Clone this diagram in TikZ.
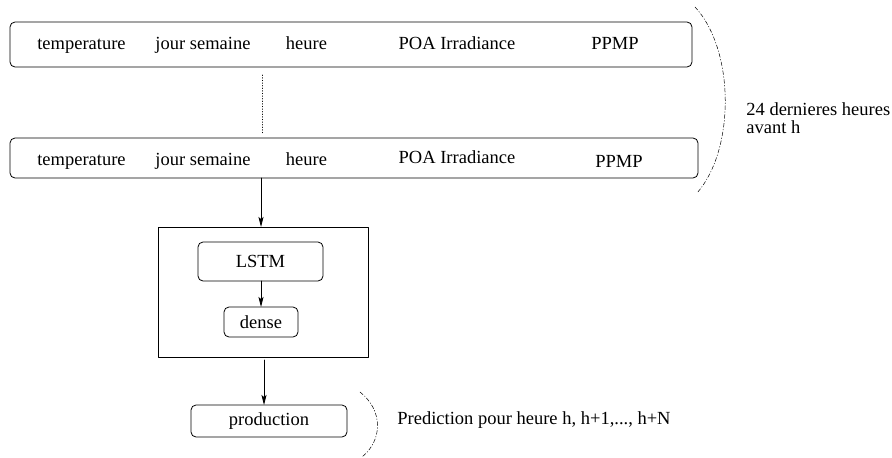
\documentclass[tikz,border=0pt]{standalone}
\usepackage{fontspec}
\setmainfont{Liberation Serif}
\usepackage{tikz}
\usetikzlibrary{arrows,arrows.meta}
\tikzset{
  boite/.style={draw,rounded corners=5pt,inner sep=0pt,outer sep=0pt},
  cadre/.style={draw,inner sep=0pt,outer sep=0pt},
  texte/.style={anchor=base,inner sep=0pt},
  accolade/.style={line width=0.5pt,dash pattern=on 4pt off 2pt on 0.8pt off 2pt}
}
\begin{document}
\begin{tikzpicture}[line cap=round,line join=round,>={Stealth[length=10pt,width=5pt,inset=2pt]},x=1pt,y=-1pt,line width=0.8pt,
    font=\rmfamily\fontsize{18.5}{18}\selectfont]
      \useasboundingbox (0,0) rectangle (892,458);
      % lignes d'entree
      \node[boite,minimum width=682,minimum height=45] (ligne1) at (351,44.5) {};
      \node[boite,minimum width=688,minimum height=40] (ligne2) at (354,158) {};
      \node[texte] (temp1) at (81.5,49) {temperature};
      \node[texte] (jour1) at (203,49) {jour semaine};
      \node[texte] (heure1) at (306.5,49) {heure};
      \node[texte] (poa1) at (457,49) {POA Irradiance};
      \node[texte] (ppmp1) at (615,49) {PPMP};
      \node[texte] (temp2) at (81.5,165) {temperature};
      \node[texte] (jour2) at (203,165) {jour semaine};
      \node[texte] (heure2) at (306.5,165) {heure};
      \node[texte] (poa2) at (457,163) {POA Irradiance};
      \node[texte] (ppmp2) at (619,167) {PPMP};
      \coordinate (pointsH) at (262,75);
      \coordinate (pointsB) at (262,133);
      \draw[dotted,line width=0.6pt] (pointsH) -- (pointsB);
      % reseau
      \node[cadre,minimum width=210,minimum height=130] (reseau) at (263,292) {};
      \node[boite,minimum width=125,minimum height=39] (lstm) at (260.5,261.5) {LSTM};
      \node[boite,minimum width=74,minimum height=30] (dense) at (261,322) {dense};
      \node[boite,minimum width=156,minimum height=32] (production) at (269,421) {production};
      \draw[->] (ligne2.south -| dense.north) -- (reseau.north -| dense.north);
      \draw[->] (lstm.south -| dense.north) -- (dense.north);
      \draw[->] ([yshift=-3pt]reseau.south -| 264,0) -- (production.north -| 264,0);
      % accolades
      \coordinate (accH) at (695,7);
      \coordinate (accB) at (697,193);
      \draw[accolade] (accH) .. controls (735,50) and (735,150) .. (accB);
      \node[anchor=base west,inner sep=0pt,align=left] (heures) at (746,133) {24 dernieres heures\\avant h};
      \coordinate (predH) at (360,392);
      \coordinate (predB) at (362,457);
      \draw[accolade] (predH) .. controls (383,410) and (383,440) .. (predB);
      \node[anchor=base west,inner sep=0pt] (prediction) at (397,424) {Prediction pour heure h, h+1,..., h+N};
\end{tikzpicture}
\end{document}
